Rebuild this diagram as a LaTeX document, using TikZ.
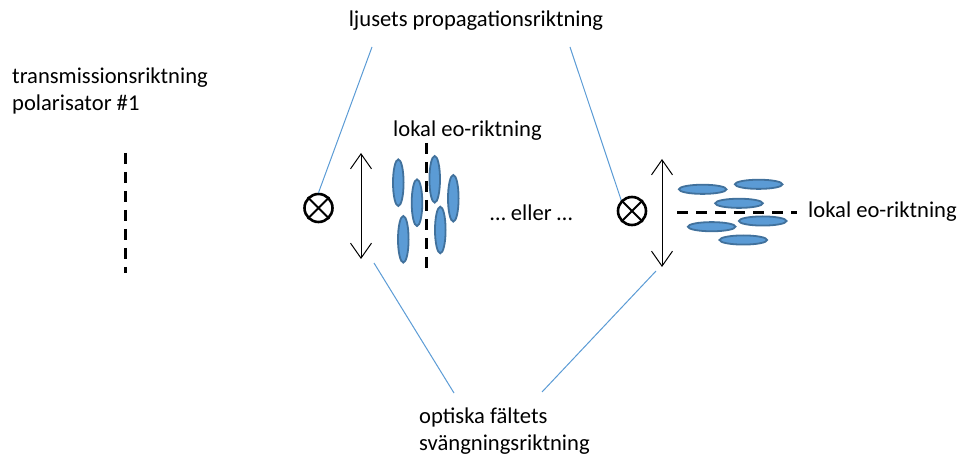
\documentclass[tikz,border=0pt]{standalone}
\usepackage{fontspec}
\setmainfont{Carlito}
\usetikzlibrary{arrows.meta}
\definecolor{lcblue}{HTML}{5B9BD5}
\definecolor{lcedge}{HTML}{41719C}
\begin{document}
\begin{tikzpicture}[x=1pt,y=-1pt,
  every node/.style={inner sep=0pt, font=\fontsize{22.6}{27}\selectfont},
  label/.style={align=left},
  pointer/.style={draw=lcblue, line width=1pt},
  eoline/.style={line width=3pt, dash pattern=on 11pt off 8pt},
  lc/.style={fill=lcblue, draw=lcedge, line width=1.8pt},
  ksign/.style={circle, draw, line width=2.6pt, minimum size=28pt},
  field/.style={line width=1pt, {Straight Barb[length=15pt,width=21pt,line width=1pt]}-{Straight Barb[length=15pt,width=21pt,line width=1pt]}}
]
\useasboundingbox (0,0) rectangle (959,457);

% texts
\node[label] (prop) at (476,21) {ljusets propagationsriktning};
\node[label, anchor=west] (pol) at (12,91) {transmissionsriktning\\polarisator \#1};
\node[label, anchor=west] (eoA) at (393,131) {lokal eo-riktning};
\node[label, anchor=west] (or) at (490,213) {… eller …};
\node[label, anchor=west] (eoB) at (808,212) {lokal eo-riktning};
\node[label, anchor=west, align=left] (osc) at (419,431) {optiska fältets\\svängningsriktning};

% polariser transmission axis
\coordinate (polT) at (125,153);
\coordinate (polB) at (125,273);
\draw[eoline] (polT) -- (polB);

% propagation direction symbols (into the page)
\node[ksign] (kA) at (318.5,208) {};
\draw[line width=1.8pt] (kA.45) -- (kA.225) (kA.135) -- (kA.315);
\node[ksign] (kB) at (632,211) {};
\draw[line width=1.8pt] (kB.45) -- (kB.225) (kB.135) -- (kB.315);

% optical field oscillation
\coordinate (fAt) at (361,153);
\coordinate (fAb) at (361,259);
\draw[field] (fAt) -- (fAb);
\coordinate (fBt) at (662,159);
\coordinate (fBb) at (662,267);
\draw[field] (fBt) -- (fBb);

% liquid crystal molecules, vertical director
\foreach \x/\y in {398.3/182.7, 417/202.7, 434.7/179.3, 453.3/198.3, 403.3/239.3, 440.3/230}
  \draw[lc] (\x,\y) ellipse [x radius=5.3, y radius=23.3];
\coordinate (eoAt) at (426,143);
\coordinate (eoAb) at (426,268);
\draw[eoline] (eoAt) -- (eoAb);

% liquid crystal molecules, horizontal director
\foreach \x/\y in {702.7/189.3, 758.7/184.3, 739/203.3, 711.7/226.7, 762.7/221, 743.3/240}
  \draw[lc] (\x,\y) ellipse [x radius=23.8, y radius=4.6];
\coordinate (eoBl) at (677,212.7);
\coordinate (eoBr) at (797,212.7);
\draw[eoline] (eoBl) -- (eoBr);

% callout lines
\coordinate (pA) at (372,47);
\coordinate (pB) at (570,47);
\draw[pointer] (pA) -- (kA.north);
\draw[pointer] (pB) -- (kB.135);
\coordinate (oA1) at (374,263);
\coordinate (oA2) at (454,393);
\coordinate (oB1) at (656,271);
\coordinate (oB2) at (542,392);
\draw[pointer] (oA1) -- (oA2);
\draw[pointer] (oB1) -- (oB2);
\end{tikzpicture}
\end{document}
